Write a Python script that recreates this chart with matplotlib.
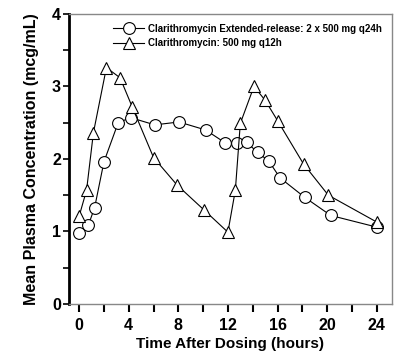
import matplotlib.pyplot as plt
from matplotlib.ticker import MultipleLocator

#########################################
# Data
#########################################

er_time = [0, 0.75, 1.25, 2, 3.15, 4.15, 6.1, 8.05, 10.2, 11.8, 12.7, 13.5, 14.4, 15.3, 16.2, 18.2, 20.3, 24]
er_conc = [0.98, 1.09, 1.33, 1.96, 2.50, 2.57, 2.47, 2.51, 2.40, 2.22, 2.22, 2.23, 2.09, 1.97, 1.74, 1.47, 1.22, 1.06]

ir_time = [0, 0.6, 1.15, 2.2, 3.3, 4.3, 6.0, 7.9, 10.05, 12.0, 12.6, 13.0, 14.1, 15.0, 16.0, 18.1, 20.1, 24]
ir_conc = [1.21, 1.57, 2.36, 3.26, 3.12, 2.71, 2.02, 1.64, 1.30, 0.99, 1.57, 2.49, 3.00, 2.81, 2.53, 1.93, 1.50, 1.13]

er_label = "Clarithromycin Extended-release: 2 x 500 mg q24h"
ir_label = "Clarithromycin: 500 mg q12h"

x_ticks = [0, 4, 8, 12, 16, 20, 24]
y_ticks = [0, 1, 2, 3, 4]

#########################################
# Plot
#########################################

plt.rcParams['font.family'] = ['Liberation Sans', 'DejaVu Sans']
plt.rcParams['font.weight'] = 'bold'

fig = plt.figure(figsize=(4.17, 3.58), dpi=100)
ax = fig.add_axes([0.166, 0.151, 0.773, 0.810])

ax.plot(er_time, er_conc, color="black", lw=0.8, marker="o", markersize=8.5,
        markerfacecolor="white", markeredgecolor="black", markeredgewidth=0.8,
        label=er_label, zorder=3)
ax.plot(ir_time, ir_conc, color="black", lw=0.8, marker="^", markersize=9,
        markerfacecolor="white", markeredgecolor="black", markeredgewidth=0.8,
        label=ir_label, zorder=4)

ax.set_xlim(-0.8, 25.2)
ax.set_ylim(0, 4)
ax.set_xticks(x_ticks)
ax.set_yticks(y_ticks)
ax.xaxis.set_minor_locator(MultipleLocator(2))
ax.yaxis.set_minor_locator(MultipleLocator(0.5))

ax.tick_params(axis="x", which="both", direction="out", length=6, width=1.5,
               labelsize=11.5, pad=4)
ax.tick_params(axis="y", which="both", direction="out", length=4, width=1.2,
               labelsize=11.5, pad=2)
for lab in ax.get_xticklabels() + ax.get_yticklabels():
    lab.set_fontweight("bold")

for side in ["top", "right", "bottom"]:
    ax.spines[side].set_color("#888888")
    ax.spines[side].set_linewidth(1.0)
ax.spines["left"].set_color("black")
ax.spines["left"].set_linewidth(2.0)

ax.set_xlabel("Time After Dosing (hours)", fontsize=11, fontweight="bold", labelpad=3)
ax.set_ylabel("Mean Plasma Concentration (mcg/mL)", fontsize=11.5, fontweight="bold", labelpad=9)

leg = ax.legend(loc="upper right", frameon=False, handlelength=3.2,
                handletextpad=0.4, borderaxespad=0.6, labelspacing=0.45,
                prop={"weight": "bold", "size": 7})

fig.savefig("out.png", dpi=100)
